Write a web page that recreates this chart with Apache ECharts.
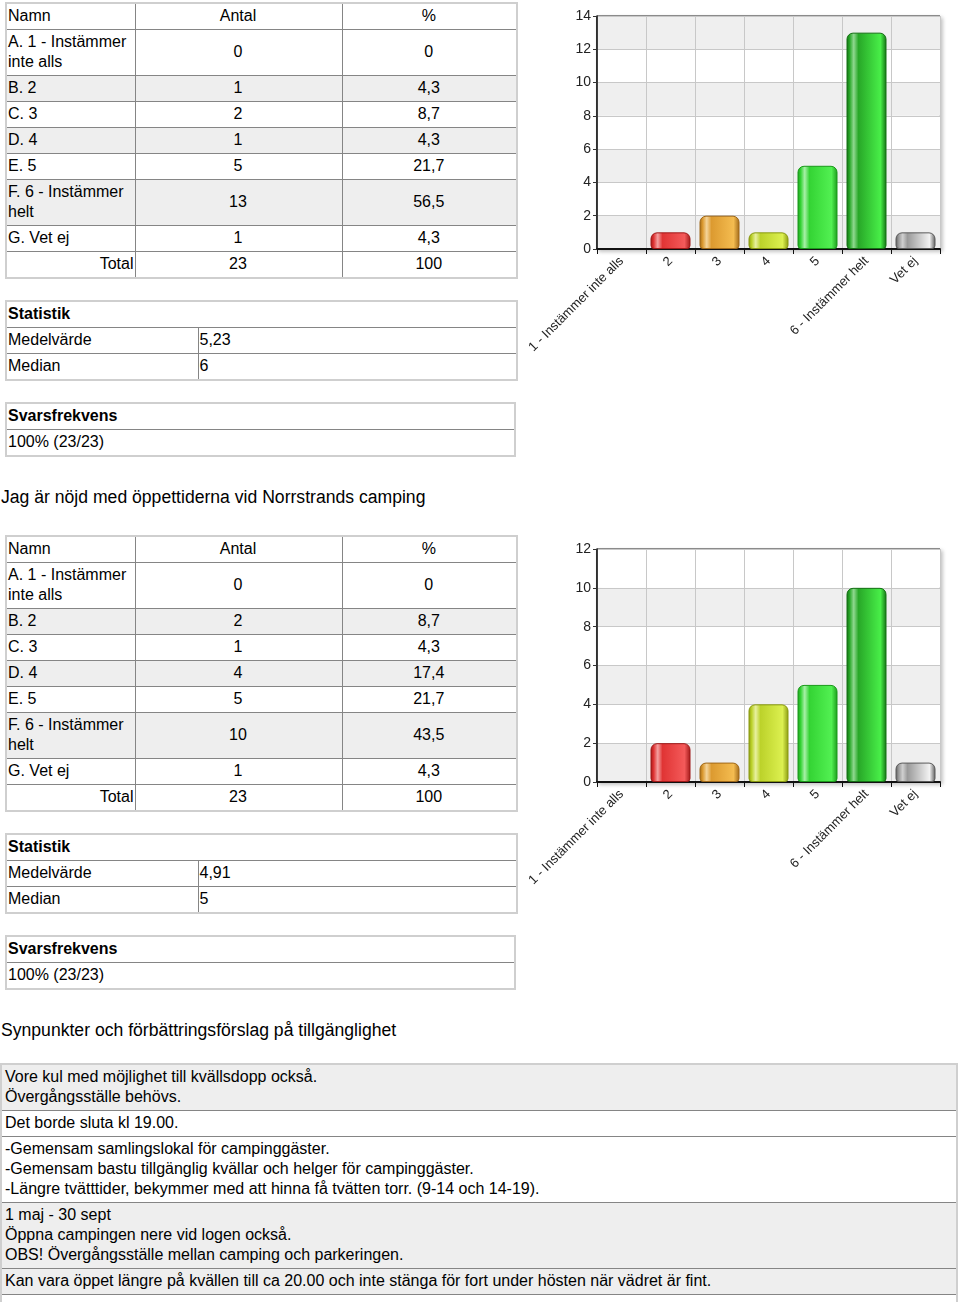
<!DOCTYPE html>
<html>
<head>
<meta charset="utf-8">
<script src="https://cdn.jsdelivr.net/npm/echarts@6/dist/echarts.min.js"></script>
<style>
  html, body { margin:0; padding:0; background:#fff; }
  body { width:960px; height:1302px; position:relative; overflow:hidden;
         font-family:"Liberation Sans", Arial, Helvetica, sans-serif; font-size:16px; color:#000; }
  table { position:absolute; border-collapse:collapse; table-layout:fixed; border:2px solid #cfcfcf; }
  td { border:1px solid #858585; padding:2px 2px 3px 1px; line-height:20px; vertical-align:middle; overflow:hidden; }
  td.c { text-align:center; }
  td.r { text-align:right; padding-right:1px; }
  tr.g td { background:#eeeeee; }
  td.b { font-weight:bold; }
  .title { position:absolute; left:1px; font-size:17.6px; line-height:20px; white-space:nowrap; }
  .chart { position:absolute; left:500px; width:460px; height:360px; }
  #comments td { padding-left:3px; }
</style>
</head>
<body>
<div id="page"></div>
<script>
// ---------- data ----------
const categories = ['1 - Instämmer inte alls', '2', '3', '4', '5', '6 - Instämmer helt', 'Vet ej'];
const rowNames = ['A. 1 - Instämmer inte alls', 'B. 2', 'C. 3', 'D. 4', 'E. 5', 'F. 6 - Instämmer helt', 'G. Vet ej'];
const counts1 = [0, 1, 2, 1, 5, 13, 1];
const percents1 = ['0', '4,3', '8,7', '4,3', '21,7', '56,5', '4,3'];
const total1 = ['23', '100'];
const mean1 = '5,23';
const median1 = '6';
const response1 = '100% (23/23)';
const yTicks1 = [0, 14, 2];

const title2 = 'Jag är nöjd med öppettiderna vid Norrstrands camping';
const counts2 = [0, 2, 1, 4, 5, 10, 1];
const percents2 = ['0', '8,7', '4,3', '17,4', '21,7', '43,5', '4,3'];
const total2 = ['23', '100'];
const mean2 = '4,91';
const median2 = '5';
const response2 = '100% (23/23)';
const yTicks2 = [0, 12, 2];

const title3 = 'Synpunkter och förbättringsförslag på tillgänglighet';
const comments = [
  'Vore kul med möjlighet till kvällsdopp också.\nÖvergångsställe behövs.',
  'Det borde sluta kl 19.00.',
  '-Gemensam samlingslokal för campinggäster.\n-Gemensam bastu tillgänglig kvällar och helger för campinggäster.\n-Längre tvätttider, bekymmer med att hinna få tvätten torr. (9-14 och 14-19).',
  '1 maj - 30 sept\nÖppna campingen nere vid logen också.\nOBS! Övergångsställe mellan camping och parkeringen.',
  'Kan vara öppet längre på kvällen till ca 20.00 och inte stänga för fort under hösten när vädret är fint.',
  ''
];
const commentShade = [true, false, false, true, true, false];

// ---------- styling ----------
const barStyles = [
  ['#a01818', '#e03434', '#f4a0a0', '#f45a5a'],
  ['#a01818', '#e03434', '#f4a0a0', '#f45a5a'],
  ['#a06818', '#dc9a30', '#f4d49a', '#f4bc50'],
  ['#8a9a10', '#bcd22a', '#e8f0a0', '#dcf050'],
  ['#1a9a1a', '#34d434', '#a8f0a8', '#52f052'],
  ['#137013', '#28a828', '#90d890', '#48ee48'],
  ['#5a5a5a', '#9a9a9a', '#d0d0d0', '#f2f2f2']
];

const page = document.getElementById('page');
const esc = s => s.replace(/&/g,'&amp;').replace(/</g,'&lt;');

function buildBlock(offset, counts, percents, total, mean, median, resp, id) {
  let h = `<table style="left:5px;top:${2+offset}px;width:511px"><colgroup><col style="width:129px"><col style="width:207px"><col style="width:175px"></colgroup>`;
  h += `<tr><td>Namn</td><td class="c">Antal</td><td class="c">%</td></tr>`;
  rowNames.forEach((n, i) => {
    h += `<tr class="${i % 2 === 1 ? 'g' : ''}"><td>${esc(n)}</td><td class="c">${counts[i]}</td><td class="c">${percents[i]}</td></tr>`;
  });
  h += `<tr><td class="r">Total</td><td class="c">${total[0]}</td><td class="c">${total[1]}</td></tr></table>`;
  h += `<table style="left:5px;top:${300+offset}px;width:511px"><colgroup><col style="width:192px"><col style="width:319px"></colgroup>`;
  h += `<tr><td class="b" colspan="2">Statistik</td></tr>`;
  h += `<tr><td>Medelvärde</td><td>${mean}</td></tr><tr><td>Median</td><td>${median}</td></tr></table>`;
  h += `<table style="left:5px;top:${402+offset}px;width:511px"><tr><td class="b">Svarsfrekvens</td></tr><tr><td>${resp}</td></tr></table>`;
  h += `<div class="chart" id="${id}" style="top:${offset}px"></div>`;
  return h;
}

let html = '';
html += buildBlock(0, counts1, percents1, total1, mean1, median1, response1, 'c1');
html += `<div class="title" style="top:487px">${esc(title2)}</div>`;
html += buildBlock(533, counts2, percents2, total2, mean2, median2, response2, 'c2');
html += `<div class="title" style="top:1020px">${esc(title3)}</div>`;
html += `<table id="comments" style="left:0;top:1063px;width:958px">`;
comments.forEach((c, i) => {
  html += `<tr class="${commentShade[i] ? 'g' : ''}"><td>${c ? esc(c).replace(/\n/g, '<br>') : '&nbsp;'}</td></tr>`;
});
html += `</table>`;
page.innerHTML = html;

function barItem(v, i) {
  const s = barStyles[i];
  return {
    value: v,
    itemStyle: {
      color: new echarts.graphic.LinearGradient(0, 0, 1, 0, [
        { offset: 0, color: s[0] },
        { offset: 0.08, color: s[1] },
        { offset: 0.18, color: s[2] },
        { offset: 0.3, color: s[1] },
        { offset: 0.85, color: s[3] },
        { offset: 1, color: s[0] }
      ]),
      borderColor: s[0],
      borderWidth: v > 0 ? 1 : 0,
      opacity: v > 0 ? 1 : 0,
      borderRadius: [6, 6, 3, 3]
    }
  };
}

function makeChart(id, values, ticks) {
  const chart = echarts.init(document.getElementById(id), null, { renderer: 'canvas' });
  chart.setOption({
    animation: false,
    grid: { left: 97, top: 16, width: 343, height: 233, show: true, borderColor: '#222', borderWidth: 1,
            outerBoundsMode: 'none', containLabel: false,
            backgroundColor: '#fff', shadowColor: 'rgba(0,0,0,0.25)', shadowBlur: 4, shadowOffsetX: 2, shadowOffsetY: 2 },
    xAxis: {
      type: 'category', data: categories,
      axisLine: { lineStyle: { color: '#111', width: 2 } },
      axisTick: { show: true, length: 5, lineStyle: { color: '#111' } },
      splitLine: { show: true, lineStyle: { color: '#c8c8c8' } },
      axisLabel: { rotate: 45, interval: 0, margin: 10, fontSize: 13, color: '#222', fontFamily: 'Liberation Sans' }
    },
    yAxis: {
      type: 'value', min: ticks[0], max: ticks[1], interval: ticks[2],
      axisLine: { show: true, lineStyle: { color: '#111', width: 1.5 } },
      axisTick: { show: true, length: 4, lineStyle: { color: '#333' } },
      splitLine: { lineStyle: { color: '#c8c8c8' } },
      splitArea: { show: true, areaStyle: { color: ['#efefef', '#ffffff'] } },
      axisLabel: { margin: 6, fontSize: 14, color: '#222', fontFamily: 'Liberation Sans' }
    },
    series: [{ type: 'bar', barWidth: 40, data: values.map(barItem) }]
  });
}
makeChart('c1', counts1, yTicks1);
makeChart('c2', counts2, yTicks2);
</script>
</body>
</html>
